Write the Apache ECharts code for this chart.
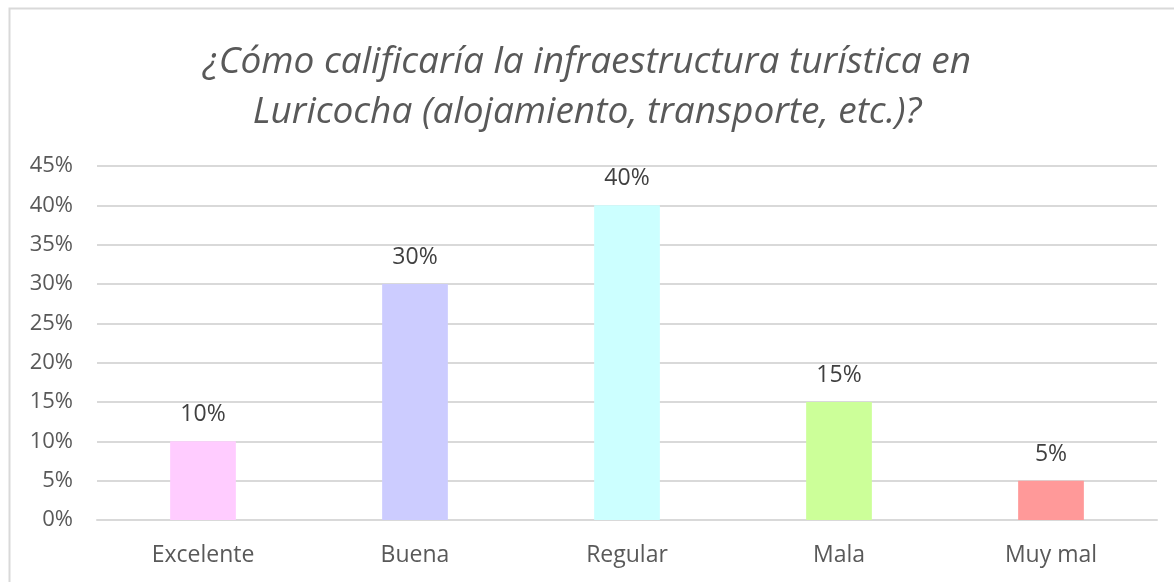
<!DOCTYPE html>
<html>
<head>
<meta charset="utf-8">
<script src="https://cdn.jsdelivr.net/npm/echarts@6/dist/echarts.min.js"></script>
<style>
  html,body{margin:0;padding:0;background:#fff;}
  #chart{width:1174px;height:582px;}
</style>
</head>
<body>
<div id="chart"></div>
<script>
// datos del gráfico
const categorias = ['Excelente', 'Buena', 'Regular', 'Mala', 'Muy mal'];
const porcentajes = [10, 30, 40, 15, 5];
const colores = ['#FFCCFF', '#CCCCFF', '#CCFFFF', '#CCFF99', '#FF9999'];
const titulo = '¿Cómo calificaría la infraestructura turística en\nLuricocha (alojamiento, transporte, etc.)?';

const chart = echarts.init(document.getElementById('chart'));
const option = {
    backgroundColor: '#fff',
    animation: false,
    title: {
        text: titulo,
        left: 'center',
        top: 32,
        textStyle: {
            fontFamily: 'Open Sans',
            fontStyle: 'italic',
            fontWeight: 400,
            fontSize: 37,
            lineHeight: 50,
            color: '#595959'
        }
    },
    graphic: [{
        type: 'rect',
        shape: {x: 9.5, y: 8.5, width: 1200, height: 600},
        style: {fill: 'none', stroke: '#d9d9d9', lineWidth: 2}
    }],
    grid: {left: 97, right: 17, top: 166, bottom: 62},
    xAxis: {
        type: 'category',
        data: categorias,
        axisTick: {show: false},
        axisLine: {lineStyle: {color: '#d9d9d9', width: 2}},
        axisLabel: {color: '#595959', fontSize: 23, fontFamily: 'Open Sans', margin: 24}
    },
    yAxis: {
        type: 'value',
        min: 0,
        max: 45,
        interval: 5,
        axisLine: {show: false},
        axisTick: {show: false},
        splitLine: {lineStyle: {color: '#d9d9d9', width: 2}},
        axisLabel: {
            color: '#595959', fontSize: 22, fontFamily: 'Open Sans', margin: 24,
            formatter: v => v + '%'
        }
    },
    series: [{
        type: 'bar',
        barWidth: '31%',
        data: porcentajes.map((v, i) => ({value: v, itemStyle: {color: colores[i]}})),
        label: {
            show: true,
            position: 'top',
            distance: 15,
            color: '#404040',
            fontSize: 23,
            fontFamily: 'Open Sans',
            formatter: p => p.value + '%'
        }
    }]
};
chart.setOption(option);
</script>
</body>
</html>
